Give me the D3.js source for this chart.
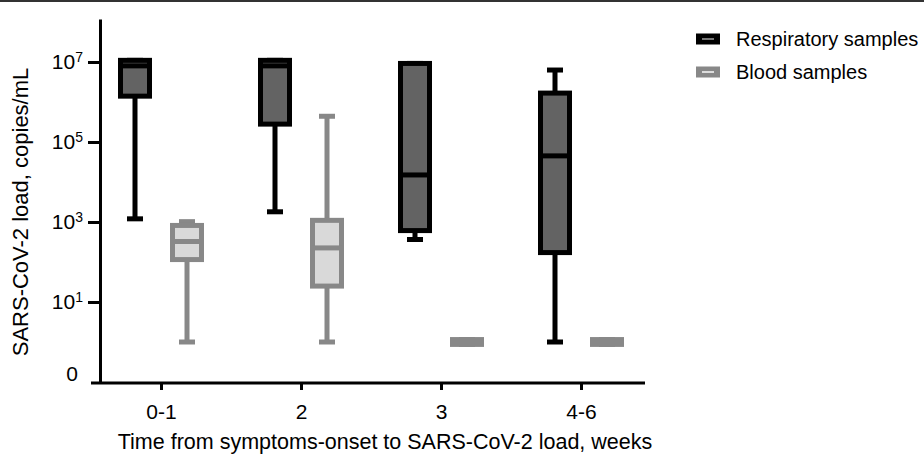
<!DOCTYPE html>
<html lang="en">

<head>
  <meta charset="UTF-8">
  <title>SARS-CoV-2 load by week</title>
  <script src="https://cdn.jsdelivr.net/npm/d3@7.9.0/dist/d3.min.js"></script>
  <style>
    html,
    body {
      margin: 0;
      padding: 0;
      background: #fff;
    }

    svg text {
      font-family: "Liberation Sans", Arial, sans-serif;
      fill: #000;
    }
  </style>
</head>

<body>
  <svg id="chart" width="924" height="454"></svg>

  <script>
    // --- Data ---
    const categories = ["0-1", "2", "3", "4-6"];
    const seriesNames = ["Respiratory samples", "Blood samples"];

    // [min, q1, median, q3, max] per week group
    const respiratory = [
      [1.2e3, 1.4e6, 8e6, 1.1e7, 1.1e7],
      [1.8e3, 2.8e5, 8e6, 1.1e7, 1.1e7],
      [365, 610, 1.5e4, 9.2e6, 9.2e6],
      [1, 172, 4.5e4, 1.67e6, 6.3e6]
    ];
    const blood = [
      [1, 115, 325, 820, 1.02e3],
      [1, 25, 225, 1.1e3, 4.4e5],
      [0.87, 0.87, 1, 1.15, 1.15],
      [0.87, 0.87, 1, 1.15, 1.15]
    ];

    const yTickValues = [10, 1e3, 1e5, 1e7];
    const zeroTick = 10 ** -0.8; // where the "0" label sits on the broken log axis

    const seriesStyle = [
      { fill: "#636363", stroke: "#000" },
      { fill: "#d9d9d9", stroke: "#888" }
    ];

    // --- Layout ---
    const svg = d3.select("#chart");
    const axisX = 100;
    const axisBottom = 383;

    const y = d3.scaleLog()
      .domain([10 ** -1.025, 10 ** 8.075])
      .range([axisBottom, 19]);

    const x = d3.scalePoint()
      .domain(categories)
      .range([161, 581]);

    const xSub = d3.scaleBand()
      .domain(seriesNames)
      .range([-52, 52]);

    // thin frame line at the very top of the figure
    svg.append("line")
      .attr("x1", 0).attr("x2", 924)
      .attr("y1", 1).attr("y2", 1)
      .attr("stroke", "#333")
      .attr("stroke-width", 2);

    // --- Y axis ---
    const yAxis = svg.append("g")
      .attr("transform", `translate(${axisX},0)`)
      .call(d3.axisLeft(y)
        .tickValues([zeroTick, ...yTickValues])
        .tickSize(12)
        .tickSizeOuter(0)
        .tickPadding(5)
        .tickFormat(() => ""));

    yAxis.select(".domain").attr("stroke-width", 3);
    yAxis.selectAll(".tick line").attr("stroke-width", 3);
    yAxis.selectAll(".tick")
      .filter(d => d === zeroTick)
      .select("line").remove();

    yAxis.selectAll(".tick text")
      .style("font-size", "21px")
      .each(function (d) {
        const t = d3.select(this);
        if (d === zeroTick) {
          t.text("0").attr("x", -22);
          return;
        }
        t.append("tspan").text("10");
        t.append("tspan")
          .text(Math.round(Math.log10(d)))
          .attr("dy", "-0.5em")
          .style("font-size", "14px");
      });

    // --- X axis ---
    const xAxis = svg.append("g")
      .attr("transform", `translate(0,${axisBottom})`)
      .call(d3.axisBottom(x)
        .tickSize(7)
        .tickSizeOuter(0)
        .tickPadding(14));

    xAxis.select(".domain").remove();
    xAxis.append("line")
      .attr("x1", 91).attr("x2", 645)
      .attr("stroke", "#000")
      .attr("stroke-width", 3);
    xAxis.selectAll(".tick line").attr("stroke-width", 3);
    xAxis.selectAll(".tick text").style("font-size", "21px");

    // --- Axis titles ---
    svg.append("text")
      .attr("x", 385)
      .attr("y", 449)
      .attr("text-anchor", "middle")
      .style("font-size", "21.5px")
      .text("Time from symptoms-onset to SARS-CoV-2 load, weeks");

    svg.append("text")
      .attr("transform", "translate(28,212) rotate(-90)")
      .attr("text-anchor", "middle")
      .style("font-size", "22px")
      .text("SARS-CoV-2 load, copies/mL");

    // --- Box plots ---
    const boxHalf = 14.5;
    const capHalf = 8;
    const sw = 5;

    [respiratory, blood].forEach((series, si) => {
      const style = seriesStyle[si];
      const g = svg.append("g").attr("class", "series-" + si);

      series.forEach((stats, ci) => {
        const [min, q1, med, q3, max] = stats;
        const cx = x(categories[ci]) + xSub(seriesNames[si]) + xSub.bandwidth() / 2;

        // whiskers
        g.append("line")
          .attr("x1", cx).attr("x2", cx)
          .attr("y1", y(max)).attr("y2", y(min))
          .attr("stroke", style.stroke)
          .attr("stroke-width", sw);
        [min, max].forEach(v => {
          g.append("line")
            .attr("x1", cx - capHalf).attr("x2", cx + capHalf)
            .attr("y1", y(v)).attr("y2", y(v))
            .attr("stroke", style.stroke)
            .attr("stroke-width", sw);
        });

        // box
        g.append("rect")
          .attr("x", cx - boxHalf)
          .attr("y", y(q3))
          .attr("width", boxHalf * 2)
          .attr("height", y(q1) - y(q3))
          .attr("fill", style.fill)
          .attr("stroke", style.stroke)
          .attr("stroke-width", sw);

        // median
        g.append("line")
          .attr("x1", cx - boxHalf).attr("x2", cx + boxHalf)
          .attr("y1", y(med)).attr("y2", y(med))
          .attr("stroke", style.stroke)
          .attr("stroke-width", sw);
      });
    });

    // --- Legend ---
    const legend = svg.append("g").attr("transform", "translate(696,39)");
    seriesNames.forEach((name, i) => {
      const row = legend.append("g").attr("transform", `translate(0,${i * 33})`);
      row.append("rect")
        .attr("x", 0).attr("y", -5.5)
        .attr("width", 24).attr("height", 11)
        .attr("fill", seriesStyle[i].stroke);
      row.append("line")
        .attr("x1", 6).attr("x2", 18)
        .attr("y1", 0).attr("y2", 0)
        .attr("stroke", i === 0 ? "#777" : "#ddd")
        .attr("stroke-width", 2);
      row.append("text")
        .attr("x", 40)
        .attr("y", 0)
        .attr("dy", "0.35em")
        .style("font-size", "20px")
        .text(name);
    });
  </script>
</body>

</html>
